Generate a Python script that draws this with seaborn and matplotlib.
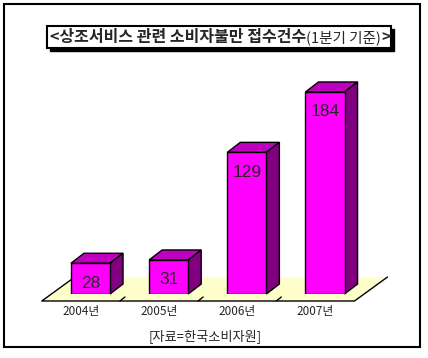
import matplotlib
matplotlib.use("Agg")
import matplotlib.pyplot as plt
import seaborn as sns
from matplotlib.patches import Polygon, Rectangle

# data
years = ["2004년", "2005년", "2006년", "2007년"]
counts = [28, 31, 129, 184]
title_main = "<상조서비스 관련 소비자불만 접수건수"
title_sub = "(1분기 기준)"
title_end = ">"
source = "[자료=한국소비자원]"

# colours
front_c = "#FF00FF"
top_c = "#BF00BF"
side_c = "#800080"
floor_c = "#FFFFCC"

sns.set_style("white")
plt.rcParams["font.family"] = ["Noto Sans CJK KR", "DejaVu Sans"]

W, H = 428, 358
fig = plt.figure(figsize=(W / 100, H / 100), dpi=100)

# axes = plane the bar fronts stand on (pixel box)
x0, x1, y0, ytop = 51.4, 364.1, 294, 74.4
ax = fig.add_axes([x0 / W, (H - y0) / H, (x1 - x0) / W, (y0 - ytop) / H])
sns.barplot(x=years, y=counts, color=front_c, saturation=1, width=0.5,
            edgecolor="black", linewidth=1, ax=ax, zorder=3)
ax.set_xlim(-0.5, 3.5)
ax.set_ylim(0, 200)
ax.set_axis_off()

# pixels -> data units
ux = 4 / (x1 - x0)
uy = 200 / (y0 - ytop)

# floor (front edge 7px below the bar base, back edge 17px above)
fx, fy = -9.6, -7
bx_, by_ = 23.4, 17
floor = [(-0.5 + fx * ux, fy * uy), (3.5 + fx * ux, fy * uy),
         (3.5 + bx_ * ux, by_ * uy), (-0.5 + bx_ * ux, by_ * uy)]
ax.add_patch(Polygon(floor, facecolor=floor_c, edgecolor="none", zorder=1, clip_on=False))
ax.plot([floor[3][0], floor[0][0], floor[1][0], floor[2][0]],
        [floor[3][1], floor[0][1], floor[1][1], floor[2][1]],
        color="black", lw=1, clip_on=False, zorder=2)
for b in [0.5, 1.5, 2.5]:
    ax.plot([b + fx * ux, b + (fx + 5) * ux], [fy * uy, (fy + 4) * uy],
            color="black", lw=1, clip_on=False, zorder=2)

# 3d sides and tops on the seaborn bars
dx, dy = 13 * ux, 10 * uy
for p, v in zip(ax.patches[:len(counts)], counts):
    bx, w, h = p.get_x(), p.get_width(), p.get_height()
    ax.add_patch(Polygon([(bx, h), (bx + w, h), (bx + w + dx, h + dy), (bx + dx, h + dy)],
                         facecolor=top_c, edgecolor="black", lw=1, zorder=2.5, clip_on=False))
    ax.add_patch(Polygon([(bx + w, 0), (bx + w + dx, dy), (bx + w + dx, h + dy), (bx + w, h)],
                         facecolor=side_c, edgecolor="black", lw=1, zorder=2.5, clip_on=False))
    ax.annotate(str(v), xy=(bx + w / 2, h), xytext=(0, -20), textcoords="offset pixels",
                ha="center", va="center", fontsize=12.5, family="Liberation Sans",
                zorder=5, annotation_clip=False)

for i, yr in enumerate(years):
    ax.annotate(yr, xy=(i, 0), xytext=(-9.6, -18), textcoords="offset pixels",
                ha="center", va="center", fontsize=8.5, annotation_clip=False)

fig.text(205 / W, 1 - 336 / H, source, ha="center", va="center", fontsize=9.5)

# outer frame and title box (kept under the axes and texts)
fig.patches.append(Rectangle((4 / W, 1 - 347 / H), 416 / W, 343 / H, transform=fig.transFigure,
                             fill=False, edgecolor="black", lw=1.5, zorder=-2))
fig.patches.append(Rectangle((50 / W, 1 - 51 / H), 344 / W, 22 / H, transform=fig.transFigure,
                             facecolor="black", edgecolor="black", lw=1, zorder=-2))
fig.patches.append(Rectangle((47 / W, 1 - 48 / H), 344 / W, 22 / H, transform=fig.transFigure,
                             facecolor="white", edgecolor="black", lw=1.5, zorder=-1))
t1 = fig.text(50 / W, 1 - 37 / H, title_main, ha="left", va="center", fontsize=11.5, weight="bold")
t2 = ax.annotate(title_sub, xy=(1, 0), xycoords=t1, ha="left", va="bottom", fontsize=10.5,
                 annotation_clip=False)
ax.annotate(title_end, xy=(1, 0), xycoords=t2, ha="left", va="bottom", fontsize=11.5,
            weight="bold", annotation_clip=False)

fig.savefig("out.png", dpi=100)
